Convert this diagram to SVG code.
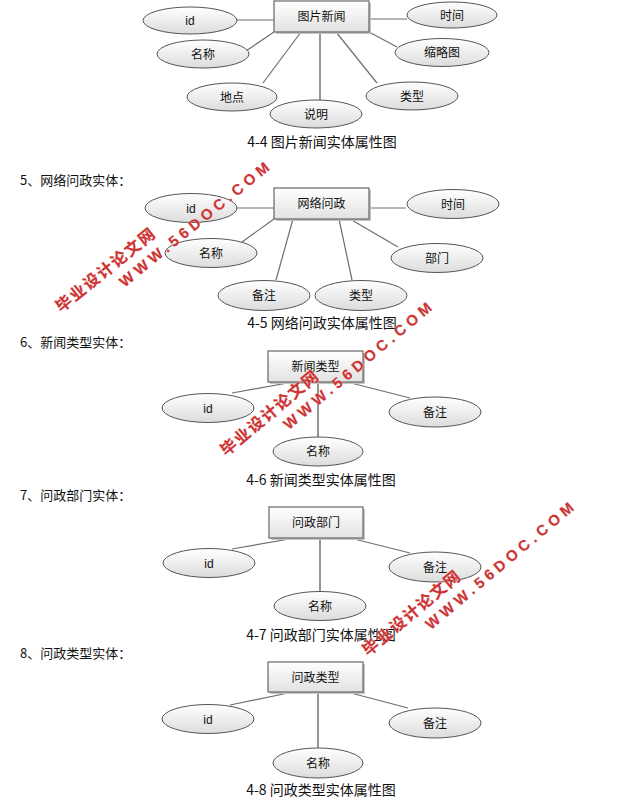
<svg xmlns="http://www.w3.org/2000/svg" width="621" height="800" viewBox="0 0 621 800">
<defs>
<linearGradient id="gE" x1="0" y1="0" x2="0" y2="1">
<stop offset="0" stop-color="#ffffff"/>
<stop offset="1" stop-color="#dcdcdc"/>
</linearGradient>
<linearGradient id="gR" x1="0" y1="0" x2="0" y2="1">
<stop offset="0" stop-color="#ffffff"/>
<stop offset="1" stop-color="#e2e2e2"/>
</linearGradient>
</defs>
<style>
text{font-family:"Noto Sans CJK SC","Liberation Sans",sans-serif;fill:#111}
.ell{fill:url(#gE);stroke:#555;stroke-width:1}
.ent{fill:url(#gR);stroke:#666;stroke-width:1.2}
.sh{fill:#c4c4c4}
.lbl{font-size:12px;text-anchor:middle}
.en{font-family:"Liberation Sans",sans-serif;font-size:12px;text-anchor:middle}
.cap{font-size:14px;text-anchor:middle}
.hd{font-size:13px}
.con line{stroke:#6e6e6e;stroke-width:1.2}
.con line.v{stroke:#8a8a8a;stroke-width:1.8}
.wm text{font-family:"Liberation Sans","Noto Sans CJK SC",sans-serif;font-weight:bold;fill:#cc3333;text-anchor:middle;stroke:#f4caca;stroke-width:0.6;paint-order:stroke}
</style>
<rect width="621" height="800" fill="#ffffff"/>

<!-- headings -->
<text class="hd" x="20" y="185">5、网络问政实体：</text>
<text class="hd" x="20" y="347">6、新闻类型实体：</text>
<text class="hd" x="20" y="500">7、问政部门实体：</text>
<text class="hd" x="20" y="658">8、问政类型实体：</text>

<!-- connectors -->
<g id="connectors" class="con">
<line x1="237" y1="20" x2="274" y2="20"/>
<line x1="369" y1="19" x2="407" y2="19"/>
<line x1="246" y1="51" x2="274" y2="32"/>
<line x1="263" y1="83" x2="301" y2="32"/>
<line class="v" x1="320" y1="32" x2="320" y2="100"/>
<line x1="377" y1="83" x2="336" y2="32"/>
<line x1="397" y1="47" x2="369" y2="32"/>

<line x1="237" y1="208" x2="274" y2="208"/>
<line x1="369" y1="208" x2="406" y2="208"/>
<line x1="242" y1="242" x2="274" y2="219"/>
<line x1="276" y1="280" x2="293" y2="219"/>
<line x1="352" y1="280" x2="339" y2="219"/>
<line x1="398" y1="247" x2="350" y2="219"/>

<line x1="232" y1="393" x2="293" y2="382"/>
<line class="v" x1="318" y1="382" x2="318" y2="437"/>
<line x1="410" y1="398" x2="347" y2="382"/>

<line x1="232" y1="549" x2="295" y2="538"/>
<line class="v" x1="320" y1="538" x2="320" y2="592"/>
<line x1="410" y1="553" x2="350" y2="538"/>

<line x1="230" y1="705" x2="293" y2="692"/>
<line class="v" x1="318" y1="692" x2="318" y2="748"/>
<line x1="408" y1="708" x2="347" y2="692"/>
</g>

<!-- Diagram 4-4 -->
<g id="e-tupianxinwen"><rect class="sh" x="276" y="3" width="95" height="31"/><rect class="ent" x="274" y="1" width="95" height="31"/><text class="lbl" x="321.5" y="21">图片新闻</text></g>
<g id="a1-id"><ellipse class="ell" cx="190" cy="20.5" rx="47" ry="13.5"/><text class="en" x="190" y="25">id</text></g>
<g id="a1-shijian"><ellipse class="ell" cx="452" cy="15" rx="45" ry="13"/><text class="lbl" x="452" y="19.5">时间</text></g>
<g id="a1-mingcheng"><ellipse class="ell" cx="203" cy="54" rx="46" ry="14"/><text class="lbl" x="203" y="58.5">名称</text></g>
<g id="a1-suolvetu"><ellipse class="ell" cx="442" cy="52.5" rx="47" ry="14"/><text class="lbl" x="442" y="57">缩略图</text></g>
<g id="a1-didian"><ellipse class="ell" cx="232" cy="97" rx="45" ry="14"/><text class="lbl" x="232" y="101.5">地点</text></g>
<g id="a1-shuoming"><ellipse class="ell" cx="316" cy="114" rx="46" ry="14"/><text class="lbl" x="316" y="118.5">说明</text></g>
<g id="a1-leixing"><ellipse class="ell" cx="412" cy="96" rx="46" ry="14"/><text class="lbl" x="412" y="100.5">类型</text></g>
<text class="cap" x="322" y="147">4-4 图片新闻实体属性图</text>

<!-- Diagram 4-5 -->
<g id="e-wangluowenzheng"><rect class="sh" x="276" y="190" width="95" height="31"/><rect class="ent" x="274" y="188" width="95" height="31"/><text class="lbl" x="321.5" y="208">网络问政</text></g>
<g id="a2-id"><ellipse class="ell" cx="191" cy="208" rx="46" ry="14.5"/><text class="en" x="191" y="212.5">id</text></g>
<g id="a2-shijian"><ellipse class="ell" cx="453" cy="204" rx="46" ry="14.5"/><text class="lbl" x="453" y="208.5">时间</text></g>
<g id="a2-mingcheng"><ellipse class="ell" cx="211" cy="253" rx="46" ry="14.5"/><text class="lbl" x="211" y="257.5">名称</text></g>
<g id="a2-bumen"><ellipse class="ell" cx="437" cy="258" rx="46" ry="14.5"/><text class="lbl" x="437" y="262.5">部门</text></g>
<g id="a2-beizhu"><ellipse class="ell" cx="264" cy="295.5" rx="46" ry="15"/><text class="lbl" x="264" y="300">备注</text></g>
<g id="a2-leixing"><ellipse class="ell" cx="361" cy="295.5" rx="46" ry="15"/><text class="lbl" x="361" y="300">类型</text></g>
<text class="cap" x="322" y="328">4-5 网络问政实体属性图</text>

<!-- Diagram 4-6 -->
<g id="e-xinwenleixing"><rect class="sh" x="270" y="353" width="95" height="31"/><rect class="ent" x="268" y="351" width="95" height="31"/><text class="lbl" x="315.5" y="371">新闻类型</text></g>
<g id="a3-id"><ellipse class="ell" cx="208" cy="408" rx="46" ry="14.5"/><text class="en" x="208" y="412.5">id</text></g>
<g id="a3-beizhu"><ellipse class="ell" cx="435" cy="412" rx="46" ry="15"/><text class="lbl" x="435" y="416.5">备注</text></g>
<g id="a3-mingcheng"><ellipse class="ell" cx="318" cy="451.5" rx="45" ry="14.5"/><text class="lbl" x="318" y="456">名称</text></g>
<text class="cap" x="321" y="485">4-6 新闻类型实体属性图</text>

<!-- Diagram 4-7 -->
<g id="e-wenzhengbumen"><rect class="sh" x="271" y="509" width="94" height="31"/><rect class="ent" x="269" y="507" width="94" height="31"/><text class="lbl" x="316" y="527">问政部门</text></g>
<g id="a4-id"><ellipse class="ell" cx="209" cy="563" rx="46" ry="14.5"/><text class="en" x="209" y="567.5">id</text></g>
<g id="a4-beizhu"><ellipse class="ell" cx="435" cy="567" rx="46" ry="15"/><text class="lbl" x="435" y="571.5">备注</text></g>
<g id="a4-mingcheng"><ellipse class="ell" cx="320" cy="606" rx="46" ry="14.5"/><text class="lbl" x="320" y="610.5">名称</text></g>
<text class="cap" x="321" y="640">4-7 问政部门实体属性图</text>

<!-- Diagram 4-8 -->
<g id="e-wenzhengleixing"><rect class="sh" x="270" y="664" width="95" height="30"/><rect class="ent" x="268" y="662" width="95" height="30"/><text class="lbl" x="315.5" y="681.5">问政类型</text></g>
<g id="a5-id"><ellipse class="ell" cx="208" cy="719" rx="46" ry="14.5"/><text class="en" x="208" y="723.5">id</text></g>
<g id="a5-beizhu"><ellipse class="ell" cx="435" cy="723" rx="46" ry="15"/><text class="lbl" x="435" y="727.5">备注</text></g>
<g id="a5-mingcheng"><ellipse class="ell" cx="318" cy="763" rx="45" ry="15"/><text class="lbl" x="318" y="767.5">名称</text></g>
<text class="cap" x="321" y="795">4-8 问政类型实体属性图</text>

<!-- watermarks -->
<g class="wm">
<g transform="translate(105,270) rotate(-39)"><text x="0" y="6" font-size="16" textLength="122" lengthAdjust="spacing">毕业设计论文网</text><text x="98" y="26" font-size="15" textLength="188" lengthAdjust="spacing">WWW.56DOC.COM</text></g>
<g transform="translate(269,413) rotate(-40)"><text x="0" y="6" font-size="16" textLength="122" lengthAdjust="spacing">毕业设计论文网</text><text x="98" y="26" font-size="15" textLength="188" lengthAdjust="spacing">WWW.56DOC.COM</text></g>
<g transform="translate(411,613) rotate(-40)"><text x="0" y="6" font-size="16" textLength="122" lengthAdjust="spacing">毕业设计论文网</text><text x="98" y="26" font-size="15" textLength="188" lengthAdjust="spacing">WWW.56DOC.COM</text></g>
</g>
</svg>
